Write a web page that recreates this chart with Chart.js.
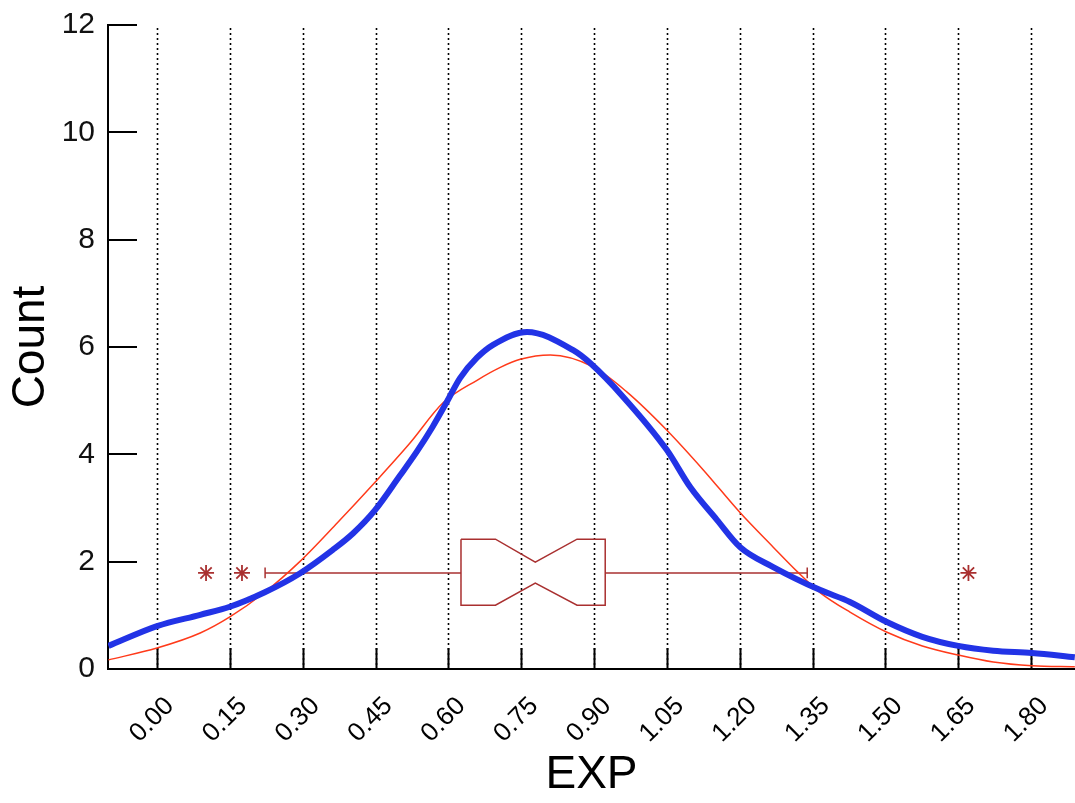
<!DOCTYPE html>
<html>
<head>
<meta charset="utf-8">
<script src="https://cdn.jsdelivr.net/npm/chart.js@4.4.1/dist/chart.umd.min.js"></script>
<style>
  html, body { margin: 0; padding: 0; background: #fff; }
  #wrap { width: 1075px; height: 803px; position: relative; }
</style>
</head>
<body>
<div id="wrap"><canvas id="myChart"></canvas></div>
<script>
// tick values
const xTicks = [0, 0.15, 0.30, 0.45, 0.60, 0.75, 0.90, 1.05, 1.20, 1.35, 1.50, 1.65, 1.80];
const yTicks = [0, 2, 4, 6, 8, 10, 12];

// smoothed density (blue)
const kdeX = [-0.10, 0.00, 0.089, 0.150, 0.222, 0.294, 0.362, 0.404, 0.449, 0.500, 0.535, 0.568, 0.597, 0.624, 0.659, 0.692, 0.762, 0.857, 0.892, 0.960, 1.050, 1.098, 1.153, 1.201, 1.269, 1.366, 1.427, 1.502, 1.576, 1.650, 1.722, 1.802, 1.890];
const kdeY = [0.43, 0.80, 1.01, 1.16, 1.43, 1.78, 2.22, 2.53, 2.96, 3.60, 4.05, 4.52, 4.98, 5.42, 5.80, 6.04, 6.28, 5.94, 5.70, 5.07, 4.08, 3.39, 2.78, 2.27, 1.90, 1.47, 1.25, 0.88, 0.60, 0.43, 0.34, 0.30, 0.22];

// normal fit (red)
const fitX = [-0.10, 0.00, 0.089, 0.150, 0.222, 0.294, 0.371, 0.449, 0.521, 0.589, 0.659, 0.707, 0.748, 0.810, 0.898, 0.968, 1.050, 1.125, 1.201, 1.269, 1.319, 1.366, 1.427, 1.502, 1.576, 1.650, 1.722, 1.802, 1.890];
const fitY = [0.17, 0.39, 0.67, 0.97, 1.43, 2.00, 2.72, 3.48, 4.21, 4.96, 5.38, 5.62, 5.77, 5.85, 5.63, 5.16, 4.45, 3.71, 2.91, 2.27, 1.81, 1.42, 1.06, 0.69, 0.43, 0.26, 0.13, 0.06, 0.04];

// box plot stats
const boxX = [0.2226, 0.626, 0.697, 0.779, 0.865, 0.923, 1.339]; // whiskerLo, q1, notchLo, median, notchHi, q3, whiskerHi
const boxY = [1.19, 1.60, 1.79, 1.99, 2.42]; // boxBottom, notchBottom, center, notchTop, boxTop
const capH = 0.1;
const outliers = [0.101, 0.175, 1.671];

const [wLo, q1, nLo, med, nHi, q3, wHi] = boxX;
const [bBot, nBot, yMid, nTop, bTop] = boxY;

const boxPath = [
  [q1, bTop], [nLo, bTop], [med, nTop], [nHi, bTop], [q3, bTop],
  [q3, bBot], [nHi, bBot], [med, nBot], [nLo, bBot], [q1, bBot], [q1, bTop]
].map(p => ({x: p[0], y: p[1]}));

const boxRed = '#a93030';
function seg(a, b) {
  return {
    data: [a, b], showLine: true, borderColor: boxRed, borderWidth: 1.5,
    pointRadius: 0, fill: false, tension: 0
  };
}

const axisMarks = {
  id: 'axisMarks',
  beforeDatasetsDraw(chart) {
    const ctx = chart.ctx, area = chart.chartArea;
    const x = chart.scales.x, y = chart.scales.y;
    ctx.save();
    ctx.strokeStyle = '#000';
    ctx.lineWidth = 1.6;
    ctx.setLineDash([2, 3]);
    x.ticks.forEach(t => {
      const px = Math.round(x.getPixelForValue(t.value)) + 0.5;
      ctx.beginPath();
      ctx.moveTo(px, area.top + 3);
      ctx.lineTo(px, area.bottom);
      ctx.stroke();
    });
    ctx.setLineDash([]);
    ctx.lineWidth = 2;
    x.ticks.forEach(t => {
      const px = Math.round(x.getPixelForValue(t.value)) + 0.5;
      ctx.beginPath();
      ctx.moveTo(px, area.bottom);
      ctx.lineTo(px, area.bottom - 21);
      ctx.stroke();
    });
    y.ticks.forEach(t => {
      const py = Math.round(y.getPixelForValue(t.value));
      ctx.beginPath();
      ctx.moveTo(area.left, py);
      ctx.lineTo(area.left + 29, py);
      ctx.stroke();
    });
    ctx.restore();
  }
};

const ch = document.getElementById('myChart');
new Chart(ch, {
  type: 'scatter',
  data: {
    datasets: [
      {
        data: kdeX.map((v, i) => ({x: v, y: kdeY[i]})),
        showLine: true, borderColor: '#2233e6', borderWidth: 6,
        pointRadius: 0, fill: false, cubicInterpolationMode: 'monotone'
      },
      {
        data: fitX.map((v, i) => ({x: v, y: fitY[i]})),
        showLine: true, borderColor: '#ff3a1a', borderWidth: 1.5,
        pointRadius: 0, fill: false, cubicInterpolationMode: 'monotone'
      },
      {
        data: boxPath, showLine: true, borderColor: boxRed, borderWidth: 1.5,
        pointRadius: 0, fill: false, tension: 0
      },
      seg({x: wLo, y: yMid}, {x: q1, y: yMid}),
      seg({x: q3, y: yMid}, {x: wHi, y: yMid}),
      seg({x: wLo, y: yMid - capH}, {x: wLo, y: yMid + capH}),
      seg({x: wHi, y: yMid - capH}, {x: wHi, y: yMid + capH}),
      {
        data: outliers.map(v => ({x: v, y: yMid})),
        pointStyle: 'star', pointRadius: 8, pointBorderColor: boxRed,
        borderColor: boxRed, pointBorderWidth: 1.8, showLine: false
      }
    ]
  },
  options: {
    responsive: true,
    maintainAspectRatio: false,
    animation: false,
    layout: { autoPadding: false, padding: { top: 25, right: 0, left: 0, bottom: 0 } },
    plugins: { legend: { display: false }, tooltip: { enabled: false } },
    scales: {
      x: {
        type: 'linear', min: -0.1009, max: 1.8904,
        afterBuildTicks: s => { s.ticks = xTicks.map(v => ({value: v})); },
        afterFit: s => { s.height = 134; s.paddingRight = 0; s.paddingLeft = 0; },
        grid: { display: false, drawTicks: false },
        border: { display: true, color: '#000', width: 2 },
        ticks: {
          minRotation: 45, maxRotation: 45, autoSkip: false,
          padding: 22, labelOffset: 13, color: '#000',
          font: { family: "'Liberation Sans', Arial, sans-serif", size: 26 },
          callback: v => Number(v).toFixed(2)
        },
        title: {
          display: true, text: 'EXP', color: '#000',
          font: { family: "'Liberation Sans', Arial, sans-serif", size: 46 },
          padding: { top: 0, bottom: 0 }
        }
      },
      y: {
        min: 0, max: 12,
        afterBuildTicks: s => { s.ticks = yTicks.map(v => ({value: v})); },
        afterFit: s => { s.width = 108; s.paddingTop = 0; s.paddingBottom = 0; },
        grid: { display: false, drawTicks: false },
        border: { display: true, color: '#000', width: 2 },
        ticks: {
          padding: 13, color: '#111',
          font: { family: "'Liberation Sans', Arial, sans-serif", size: 30 }
        },
        title: {
          display: true, text: 'Count', color: '#000',
          font: { family: "'Liberation Sans', Arial, sans-serif", size: 46 }
        }
      }
    }
  },
  plugins: [axisMarks]
});
</script>
</body>
</html>
